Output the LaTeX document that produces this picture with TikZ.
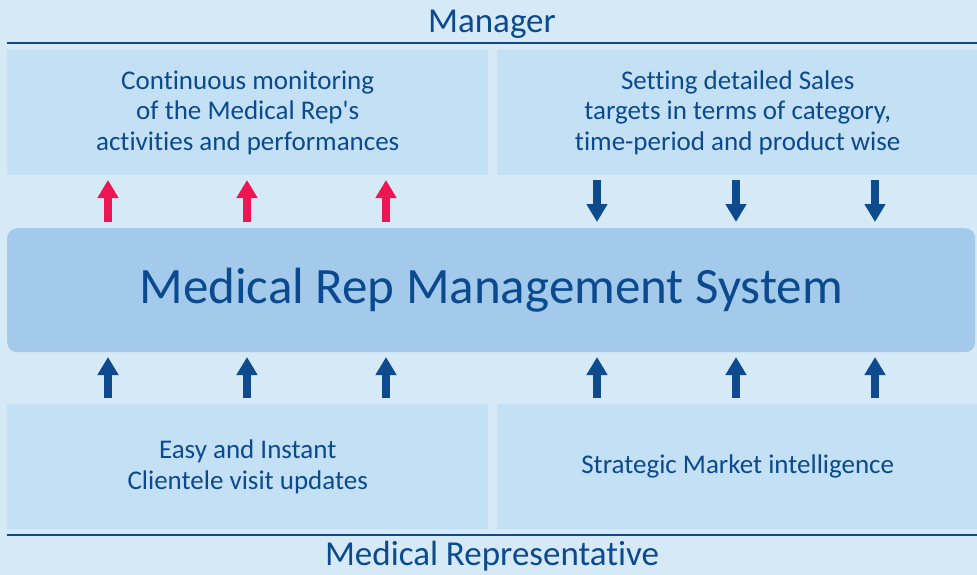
\documentclass[tikz,border=0pt]{standalone}
\usepackage{fontspec}
\setmainfont{Carlito}[Ligatures=NoCommon]
\usetikzlibrary{arrows.meta}
\definecolor{bgc}{HTML}{D6E9F7}
\definecolor{boxc}{HTML}{C4E0F4}
\definecolor{mainc}{HTML}{A3CAEA}
\definecolor{txtc}{HTML}{0B4A8E}
\definecolor{redc}{HTML}{EE1652}
\definecolor{linec}{HTML}{0E4A8E}
\tikzset{
  panel/.style={fill=boxc, inner sep=0pt, anchor=north west, minimum width=481pt, minimum height=125pt,
    text=txtc, align=center, font=\fontsize{27}{30.5}\selectfont},
  mainbox/.style={fill=mainc, rounded corners=10pt, inner sep=0pt, anchor=north west,
    minimum width=968pt, minimum height=124pt, text=txtc, font=\fontsize{51}{58}\selectfont},
  title/.style={text=txtc, font=\fontsize{35}{38}\selectfont, inner sep=0pt},
  rule/.style={draw=linec, line width=2.5pt},
  uparrow/.style={draw=redc, line width=8pt, -{Triangle[width=20pt,length=18pt]}},
  blarrow/.style={draw=linec, line width=8pt, -{Triangle[width=20pt,length=18pt]}},
}
\begin{document}
\begin{tikzpicture}[x=1pt,y=-1pt]
\fill[bgc] (0,0) rectangle (977,575);
\useasboundingbox (0,0) rectangle (977,575);
% titles and rules
\node[title] (mgr) at (492,24) {Manager};
\coordinate (tl1) at (7,43); \coordinate (tl2) at (977,43);
\draw[rule] (tl1) -- (tl2);
\node[title] (rep) at (492,556) {Medical Representative};
\coordinate (bl1) at (7,535); \coordinate (bl2) at (977,535);
\draw[rule] (bl1) -- (bl2);
% panels
\node[panel] (p1) at (7,50) {Continuous monitoring\\of the Medical Rep\textquotesingle s\\activities and performances};
\node[panel] (p2) at (497,50) {Setting detailed Sales\\targets in terms of category,\\time-period and product wise};
\node[panel] (p3) at (7,404) {Easy and Instant\\Clientele visit updates};
\node[panel] (p4) at (497,404) {Strategic Market intelligence};
\node[mainbox] (sys) at (7,228) {Medical Rep Management System};
% arrows
\foreach \x [count=\i] in {108,247,386}{
  \coordinate (ua\i) at (\x,222); \coordinate (ub\i) at (\x,180);
  \draw[uparrow] (ua\i) -- (ub\i);
  \coordinate (la\i) at (\x,398); \coordinate (lb\i) at (\x,357);
  \draw[blarrow] (la\i) -- (lb\i);
}
\foreach \x [count=\i] in {597,736,875}{
  \coordinate (da\i) at (\x,180); \coordinate (db\i) at (\x,222);
  \draw[blarrow] (da\i) -- (db\i);
  \coordinate (ra\i) at (\x,398); \coordinate (rb\i) at (\x,357);
  \draw[blarrow] (ra\i) -- (rb\i);
}
\end{tikzpicture}
\end{document}
